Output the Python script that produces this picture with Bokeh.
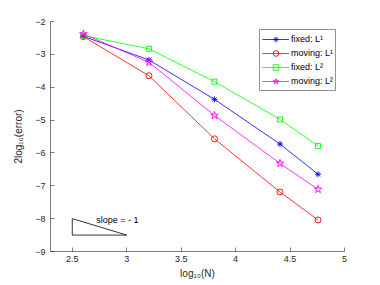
from bokeh.plotting import figure
from bokeh.models import Range1d, FixedTicker, Legend, LegendItem
from bokeh.core.properties import value
from bokeh.embed import file_html
from bokeh.resources import INLINE

log_n = [2.602, 3.204, 3.806, 4.408, 4.757]
fixed_l1 = [-2.45, -3.17, -4.37, -5.73, -6.65]
moving_l1 = [-2.46, -3.65, -5.57, -7.19, -8.04]
fixed_l2 = [-2.43, -2.83, -3.83, -4.98, -5.79]
moving_l2 = [-2.38, -3.24, -4.86, -6.32, -7.11]

x_ticks = [2.5, 3, 3.5, 4, 4.5, 5]
y_ticks = [-9, -8, -7, -6, -5, -4, -3, -2]

slope_x = [2.5, 2.5, 3, 2.5]
slope_y = [-8, -8.5, -8.5, -8]
slope_label_x = [2.72]
slope_label_y = [-8.05]
slope_label = ["slope = - 1"]

FONT = "Liberation Sans"
AX = "#262626"

p = figure(width=380, height=285, output_backend="svg", toolbar_location=None,
           x_range=Range1d(2.3, 5), y_range=Range1d(-9, -2),
           min_border_left=50, min_border_right=36, min_border_top=21, min_border_bottom=34)
p.outline_line_color = None
p.xgrid.visible = False
p.ygrid.visible = False
p.background_fill_color = "white"
p.border_fill_color = "white"

for ax in (p.xaxis[0], p.yaxis[0]):
    ax.axis_line_color = AX
    ax.axis_line_width = 0.6
    ax.major_tick_line_color = AX
    ax.major_tick_line_width = 0.6
    ax.major_tick_in = 4
    ax.major_tick_out = 0
    ax.minor_tick_line_color = None
    ax.major_label_text_font = FONT
    ax.major_label_text_font_size = "9px"
    ax.major_label_text_color = AX
    ax.axis_label_text_font = FONT
    ax.axis_label_text_font_size = "10px"
    ax.axis_label_text_font_style = "normal"
    ax.axis_label_text_color = AX

p.xaxis[0].ticker = FixedTicker(ticks=x_ticks)
p.yaxis[0].ticker = FixedTicker(ticks=y_ticks)
p.xaxis[0].major_label_standoff = 4
p.xaxis[0].axis_label_standoff = 3
p.yaxis[0].major_label_standoff = 5
p.yaxis[0].axis_label_standoff = 8
p.xaxis[0].axis_label = "log₁₀(N)"
p.yaxis[0].axis_label = "2log₁₀(error)"

series = [
    ("fixed: L¹", fixed_l1, "#0000ff", "asterisk", 6),
    ("moving: L¹", moving_l1, "#ff0000", "circle", 6),
    ("fixed: L²", fixed_l2, "#00ff00", "square", 5),
    ("moving: L²", moving_l2, "#ff00ff", "star", 8),
]
items = []
for label, ys, col, mk, size in series:
    r1 = p.line(log_n, ys, line_color=col, line_width=0.8)
    r2 = p.scatter(log_n, ys, marker=mk, size=size, line_color=col,
                   fill_color=None, line_width=0.9)
    items.append(LegendItem(label=label, renderers=[r1, r2]))

p.line(slope_x, slope_y, line_color="black", line_width=0.8)
p.text(slope_label_x, slope_label_y, text=slope_label, text_font=value(FONT),
       text_font_size="9px", text_color="black", text_baseline="middle", text_align="left")

legend = Legend(items=items, location="top_right")
legend.label_text_font = FONT
legend.label_text_font_size = "9px"
legend.label_text_color = "black"
legend.glyph_width = 27
legend.glyph_height = 14
legend.label_height = 14
legend.spacing = 0
legend.padding = 2
legend.margin = 8
legend.label_standoff = 2
legend.border_line_color = AX
legend.border_line_width = 0.8
legend.background_fill_alpha = 1
p.add_layout(legend)

open("out.html", "w").write(file_html(p, INLINE))
